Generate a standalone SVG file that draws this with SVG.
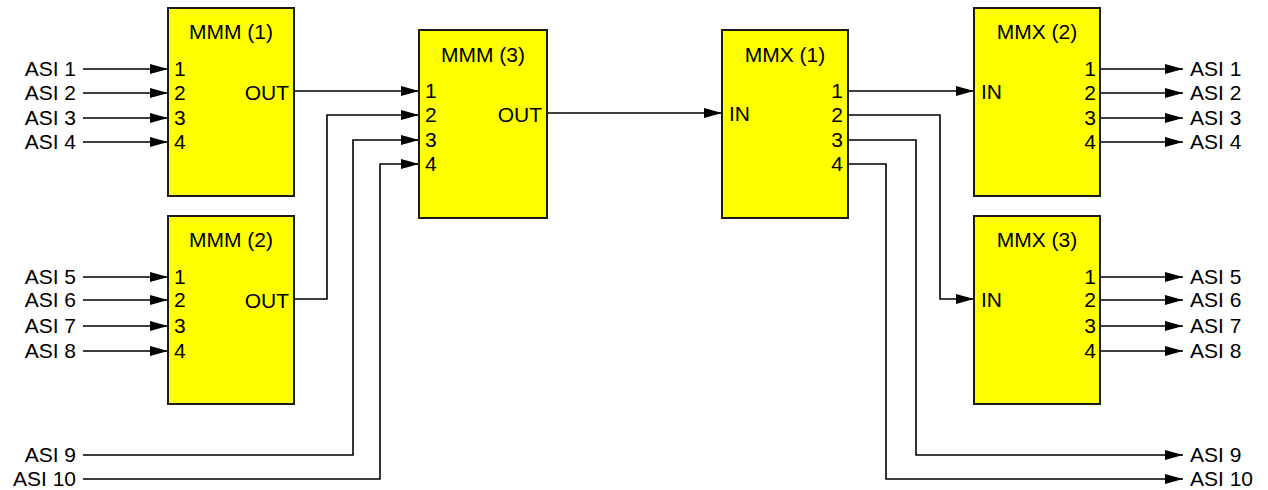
<svg xmlns="http://www.w3.org/2000/svg" width="1268" height="490" viewBox="0 0 1268 490">
<style>
.box{fill:#ffff00;stroke:#1a1a1a;stroke-width:2}
text{font-family:"Liberation Sans",Arial,sans-serif;font-size:21px;fill:#000}
.c{text-anchor:middle}
.e{text-anchor:end}
.ln{fill:none;stroke:#000;stroke-width:1.6}
.ar{marker-end:url(#ah)}
</style>
<defs>
<marker id="ah" markerUnits="userSpaceOnUse" markerWidth="18" markerHeight="10" refX="18" refY="5" orient="auto">
<path d="M0,0 L18,5 L0,10 z" fill="#000"/>
</marker>
</defs>
<rect width="1268" height="490" fill="#fff"/>
<g id="connectors">
<path class="ln ar" d="M83,69 H168"/>
<path class="ln ar" d="M83,93 H168"/>
<path class="ln ar" d="M83,118 H168"/>
<path class="ln ar" d="M83,142 H168"/>
<path class="ln ar" d="M83,277 H168"/>
<path class="ln ar" d="M83,300 H168"/>
<path class="ln ar" d="M83,326 H168"/>
<path class="ln ar" d="M83,351 H168"/>
<path class="ln ar" d="M294,91 H419"/>
<path class="ln ar" d="M294,299 H327 V115 H419"/>
<path class="ln ar" d="M83,455 H353 V140 H419"/>
<path class="ln ar" d="M83,479 H380 V164 H419"/>
<path class="ln ar" d="M547,113 H722"/>
<path class="ln ar" d="M848,91 H974"/>
<path class="ln ar" d="M848,115 H940 V299 H974"/>
<path class="ln ar" d="M848,140 H916 V455 H1183"/>
<path class="ln ar" d="M848,164 H886 V479 H1183"/>
<path class="ln ar" d="M1100,69 H1183"/>
<path class="ln ar" d="M1100,93 H1183"/>
<path class="ln ar" d="M1100,118 H1183"/>
<path class="ln ar" d="M1100,142 H1183"/>
<path class="ln ar" d="M1100,277 H1183"/>
<path class="ln ar" d="M1100,300 H1183"/>
<path class="ln ar" d="M1100,326 H1183"/>
<path class="ln ar" d="M1100,351 H1183"/>
</g>
<g id="in-labels">
<text class="e" x="76" y="76">ASI 1</text>
<text class="e" x="76" y="100">ASI 2</text>
<text class="e" x="76" y="125">ASI 3</text>
<text class="e" x="76" y="149">ASI 4</text>
<text class="e" x="76" y="284">ASI 5</text>
<text class="e" x="76" y="307">ASI 6</text>
<text class="e" x="76" y="333">ASI 7</text>
<text class="e" x="76" y="358">ASI 8</text>
<text class="e" x="76" y="462">ASI 9</text>
<text class="e" x="76" y="486">ASI 10</text>
</g>
<g id="out-labels">
<text x="1190" y="76">ASI 1</text>
<text x="1190" y="100">ASI 2</text>
<text x="1190" y="125">ASI 3</text>
<text x="1190" y="149">ASI 4</text>
<text x="1190" y="284">ASI 5</text>
<text x="1190" y="307">ASI 6</text>
<text x="1190" y="333">ASI 7</text>
<text x="1190" y="358">ASI 8</text>
<text x="1190" y="462">ASI 9</text>
<text x="1190" y="486">ASI 10</text>
</g>
<g id="mmm1">
<rect class="box" x="168" y="8" width="126" height="188"/>
<text class="c" x="231" y="39">MMM (1)</text>
<text x="174" y="76">1</text>
<text x="174" y="100">2</text>
<text x="174" y="125">3</text>
<text x="174" y="149">4</text>
<text class="e" x="289" y="100">OUT</text>
</g>
<g id="mmm2">
<rect class="box" x="168" y="216" width="126" height="188"/>
<text class="c" x="231" y="247">MMM (2)</text>
<text x="174" y="284">1</text>
<text x="174" y="307">2</text>
<text x="174" y="333">3</text>
<text x="174" y="358">4</text>
<text class="e" x="289" y="308">OUT</text>
</g>
<g id="mmm3">
<rect class="box" x="419" y="30" width="128" height="188"/>
<text class="c" x="483" y="62">MMM (3)</text>
<text x="425" y="98">1</text>
<text x="425" y="122">2</text>
<text x="425" y="147">3</text>
<text x="425" y="171">4</text>
<text class="e" x="542" y="122">OUT</text>
</g>
<g id="mmx1">
<rect class="box" x="722" y="30" width="126" height="188"/>
<text class="c" x="785" y="62">MMX (1)</text>
<text x="729" y="121">IN</text>
<text class="e" x="843" y="98">1</text>
<text class="e" x="843" y="122">2</text>
<text class="e" x="843" y="147">3</text>
<text class="e" x="843" y="171">4</text>
</g>
<g id="mmx2">
<rect class="box" x="974" y="8" width="126" height="188"/>
<text class="c" x="1037" y="39">MMX (2)</text>
<text x="981" y="99">IN</text>
<text class="e" x="1096" y="76">1</text>
<text class="e" x="1096" y="100">2</text>
<text class="e" x="1096" y="125">3</text>
<text class="e" x="1096" y="149">4</text>
</g>
<g id="mmx3">
<rect class="box" x="974" y="216" width="126" height="188"/>
<text class="c" x="1037" y="247">MMX (3)</text>
<text x="981" y="307">IN</text>
<text class="e" x="1096" y="284">1</text>
<text class="e" x="1096" y="307">2</text>
<text class="e" x="1096" y="333">3</text>
<text class="e" x="1096" y="358">4</text>
</g>
</svg>
